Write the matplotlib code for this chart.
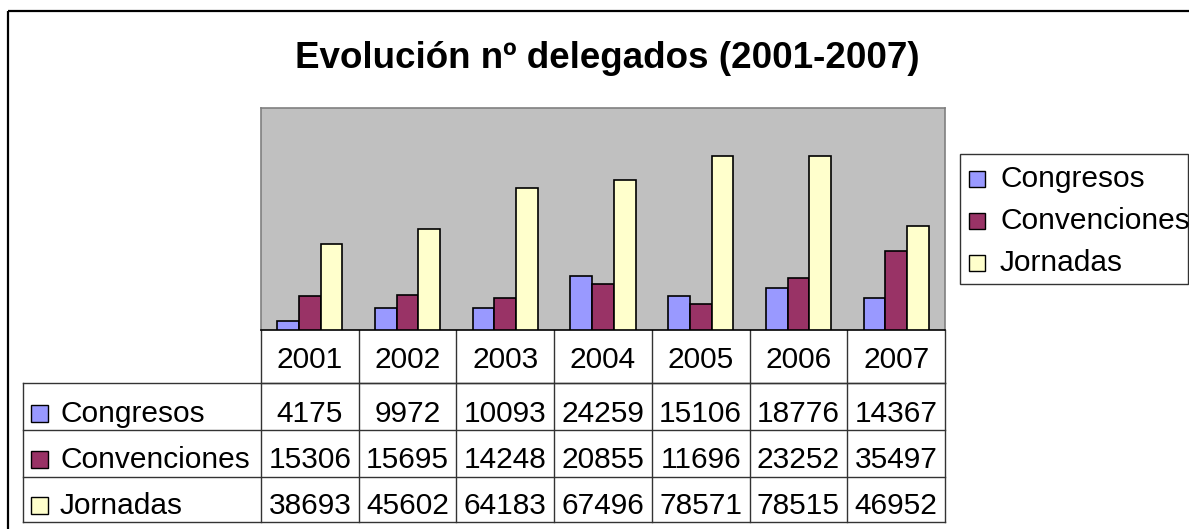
import matplotlib
matplotlib.use("Agg")
import matplotlib.pyplot as plt
from matplotlib.patches import Rectangle
import numpy as np

plt.rcParams['font.family'] = ['Liberation Sans', 'DejaVu Sans']

title = "Evolución nº delegados (2001-2007)"
years = ["2001", "2002", "2003", "2004", "2005", "2006", "2007"]
series_names = ["Congresos", "Convenciones", "Jornadas"]
congresos = [4175, 9972, 10093, 24259, 15106, 18776, 14367]
convenciones = [15306, 15695, 14248, 20855, 11696, 23252, 35497]
jornadas = [38693, 45602, 64183, 67496, 78571, 78515, 46952]
series_values = [congresos, convenciones, jornadas]
colors = ["#9999FF", "#993366", "#FFFFCC"]

W, H = 1189, 529
fig = plt.figure(figsize=(W / 100, H / 100), dpi=100)
fig.patch.set_facecolor("white")

# overlay axes in pixel coordinates (borders, title, legend, table)
ov = fig.add_axes([0, 0, 1, 1])
ov.set_xlim(0, W)
ov.set_ylim(H, 0)
ov.axis("off")

# outer chart border
ov.plot([8, 8], [11, H + 5], color="black", lw=1.6, solid_capstyle="butt")
ov.plot([8, W + 5], [11, 11], color="black", lw=1.6, solid_capstyle="butt")

# title
ov.text(607, 68, title, ha="center", va="baseline", fontsize=26.5, fontweight="bold")

# plot area
px_l, px_r, px_t, px_b = 261, 945, 108, 330
ax = fig.add_axes([px_l / W, 1 - px_b / H, (px_r - px_l) / W, (px_b - px_t) / H])
ax.set_facecolor("#C0C0C0")
x = np.arange(len(years))
bw = 1 / 4.5
for i, (name, vals, c) in enumerate(zip(series_names, series_values, colors)):
    ax.bar(x + (i - 1) * bw, vals, width=bw, color=c, edgecolor="black", linewidth=1.2, zorder=3)
ax.set_xlim(-0.5, len(years) - 0.5)
ax.set_ylim(0, 100000)
ax.set_xticks([])
ax.set_yticks([])
for s in ["top", "left", "right"]:
    ax.spines[s].set_color("#808080")
    ax.spines[s].set_linewidth(1.2)
ax.spines["bottom"].set_color("black")
ax.spines["bottom"].set_linewidth(1.2)

# data table
col_w = (px_r - px_l) / len(years)
lab_l = 23
rows_y = [330, 383, 430, 477, 522]
tc = "#333333"
lw = 1.0
ov.plot([px_l, px_r], [rows_y[1], rows_y[1]], color=tc, lw=lw)
for k in range(len(years) + 1):
    xx = px_l + k * col_w
    ov.plot([xx, xx], [rows_y[0], rows_y[-1]], color=tc, lw=lw)
for j in range(1, 5):
    ov.plot([lab_l, px_r], [rows_y[j], rows_y[j]], color=tc, lw=lw)
ov.plot([lab_l, lab_l], [rows_y[1], rows_y[-1]], color=tc, lw=lw)

fs = 21.5
for k, yr in enumerate(years):
    ov.text(px_l + (k + 0.5) * col_w, 368, yr, ha="center", va="baseline", fontsize=fs)
base = [422, 468, 514]
for r, (name, vals, c) in enumerate(zip(series_names, series_values, colors)):
    ov.add_patch(Rectangle((31, base[r] - 17), 17, 17, facecolor=c, edgecolor="black", lw=1.0))
    ov.text(60, base[r], name, ha="left", va="baseline", fontsize=fs)
    for k, v in enumerate(vals):
        ov.text(px_l + (k + 0.5) * col_w, base[r], str(v), ha="center", va="baseline", fontsize=fs)

# legend
ov.add_patch(Rectangle((960, 154), 228, 130, facecolor="white", edgecolor="#333333", lw=1.0))
leg_base = [187, 229, 271]
for r, (name, c) in enumerate(zip(series_names, colors)):
    ov.add_patch(Rectangle((969, leg_base[r] - 16), 16, 16, facecolor=c, edgecolor="black", lw=1.0))
    ov.text(1000, leg_base[r], name, ha="left", va="baseline", fontsize=fs)

fig.savefig("out.png", dpi=100, facecolor="white")
